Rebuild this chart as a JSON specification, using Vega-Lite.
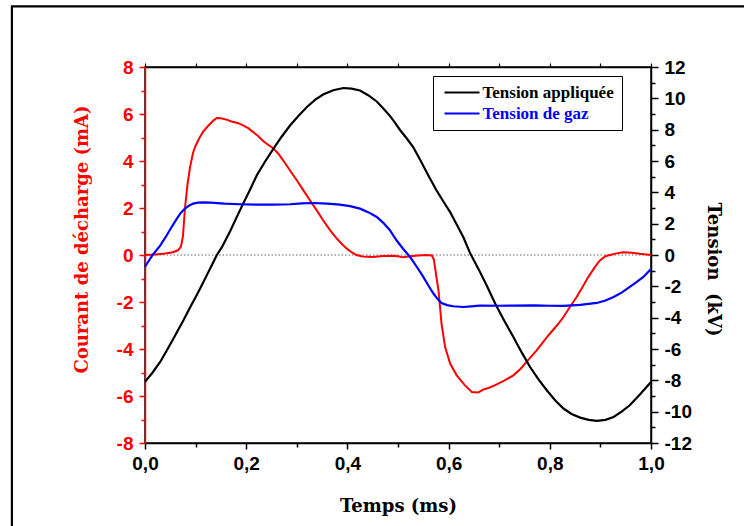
{
  "$schema": "https://vega.github.io/schema/vega-lite/v6.json",
  "width": 506,
  "height": 376,
  "autosize": {"type": "none"},
  "padding": {"left": 145, "top": 67, "right": 93, "bottom": 83},
  "background": "white",
  "config": {"view": {"stroke": "black", "strokeWidth": 1.5}},
  "datasets": {
    "current": [
      {"t": 0, "I": 0}, {"t": 0.02, "I": 0.02}, {"t": 0.04, "I": 0.06}, {"t": 0.055, "I": 0.12},
      {"t": 0.065, "I": 0.2}, {"t": 0.071, "I": 0.35}, {"t": 0.075, "I": 0.8}, {"t": 0.079, "I": 2.0},
      {"t": 0.084, "I": 3.0}, {"t": 0.089, "I": 3.74}, {"t": 0.095, "I": 4.35}, {"t": 0.1, "I": 4.65},
      {"t": 0.108, "I": 5.0}, {"t": 0.115, "I": 5.25}, {"t": 0.125, "I": 5.5}, {"t": 0.135, "I": 5.72},
      {"t": 0.142, "I": 5.83}, {"t": 0.15, "I": 5.82}, {"t": 0.161, "I": 5.76}, {"t": 0.171, "I": 5.68},
      {"t": 0.183, "I": 5.62}, {"t": 0.194, "I": 5.52}, {"t": 0.204, "I": 5.4}, {"t": 0.214, "I": 5.23},
      {"t": 0.224, "I": 5.05}, {"t": 0.234, "I": 4.84}, {"t": 0.244, "I": 4.68}, {"t": 0.254, "I": 4.53},
      {"t": 0.264, "I": 4.3}, {"t": 0.273, "I": 4.03}, {"t": 0.285, "I": 3.65}, {"t": 0.3, "I": 3.18},
      {"t": 0.313, "I": 2.75}, {"t": 0.326, "I": 2.33}, {"t": 0.34, "I": 1.88}, {"t": 0.352, "I": 1.48},
      {"t": 0.365, "I": 1.08}, {"t": 0.379, "I": 0.7}, {"t": 0.39, "I": 0.45}, {"t": 0.399, "I": 0.27},
      {"t": 0.408, "I": 0.12}, {"t": 0.418, "I": 0.0}, {"t": 0.43, "I": -0.06}, {"t": 0.451, "I": -0.08},
      {"t": 0.47, "I": -0.04}, {"t": 0.49, "I": -0.03}, {"t": 0.5, "I": -0.05}, {"t": 0.51, "I": -0.1},
      {"t": 0.52, "I": -0.06}, {"t": 0.54, "I": -0.02}, {"t": 0.555, "I": 0.0}, {"t": 0.567, "I": -0.02},
      {"t": 0.571, "I": -0.2}, {"t": 0.575, "I": -0.8}, {"t": 0.58, "I": -1.5}, {"t": 0.586, "I": -2.92},
      {"t": 0.593, "I": -3.91}, {"t": 0.603, "I": -4.62}, {"t": 0.616, "I": -5.12}, {"t": 0.632, "I": -5.54},
      {"t": 0.646, "I": -5.83}, {"t": 0.659, "I": -5.85}, {"t": 0.669, "I": -5.72}, {"t": 0.68, "I": -5.65},
      {"t": 0.692, "I": -5.54}, {"t": 0.71, "I": -5.35}, {"t": 0.728, "I": -5.12}, {"t": 0.742, "I": -4.85},
      {"t": 0.754, "I": -4.55}, {"t": 0.774, "I": -4.06}, {"t": 0.787, "I": -3.7}, {"t": 0.8, "I": -3.35},
      {"t": 0.814, "I": -3.0}, {"t": 0.827, "I": -2.64}, {"t": 0.84, "I": -2.2}, {"t": 0.853, "I": -1.79},
      {"t": 0.865, "I": -1.35}, {"t": 0.876, "I": -0.94}, {"t": 0.888, "I": -0.55}, {"t": 0.899, "I": -0.23},
      {"t": 0.91, "I": -0.05}, {"t": 0.919, "I": 0.0}, {"t": 0.932, "I": 0.07}, {"t": 0.945, "I": 0.12},
      {"t": 0.962, "I": 0.1}, {"t": 0.978, "I": 0.05}, {"t": 1.0, "I": 0.0}
    ],
    "voltage": [
      {"serie": "Tension appliquée", "t": 0, "V": -8.1}, {"serie": "Tension appliquée", "t": 0.015, "V": -7.5},
      {"serie": "Tension appliquée", "t": 0.03, "V": -6.83}, {"serie": "Tension appliquée", "t": 0.043, "V": -6.1},
      {"serie": "Tension appliquée", "t": 0.056, "V": -5.34}, {"serie": "Tension appliquée", "t": 0.066, "V": -4.75},
      {"serie": "Tension appliquée", "t": 0.076, "V": -4.17}, {"serie": "Tension appliquée", "t": 0.089, "V": -3.35},
      {"serie": "Tension appliquée", "t": 0.102, "V": -2.57}, {"serie": "Tension appliquée", "t": 0.112, "V": -1.95},
      {"serie": "Tension appliquée", "t": 0.122, "V": -1.3}, {"serie": "Tension appliquée", "t": 0.132, "V": -0.65},
      {"serie": "Tension appliquée", "t": 0.142, "V": 0.0}, {"serie": "Tension appliquée", "t": 0.152, "V": 0.5},
      {"serie": "Tension appliquée", "t": 0.168, "V": 1.5}, {"serie": "Tension appliquée", "t": 0.181, "V": 2.4},
      {"serie": "Tension appliquée", "t": 0.194, "V": 3.28}, {"serie": "Tension appliquée", "t": 0.208, "V": 4.2},
      {"serie": "Tension appliquée", "t": 0.221, "V": 5.09}, {"serie": "Tension appliquée", "t": 0.238, "V": 6.0},
      {"serie": "Tension appliquée", "t": 0.254, "V": 6.79}, {"serie": "Tension appliquée", "t": 0.27, "V": 7.55},
      {"serie": "Tension appliquée", "t": 0.287, "V": 8.28}, {"serie": "Tension appliquée", "t": 0.304, "V": 8.9},
      {"serie": "Tension appliquée", "t": 0.32, "V": 9.45}, {"serie": "Tension appliquée", "t": 0.336, "V": 9.9},
      {"serie": "Tension appliquée", "t": 0.352, "V": 10.24}, {"serie": "Tension appliquée", "t": 0.372, "V": 10.52},
      {"serie": "Tension appliquée", "t": 0.392, "V": 10.66}, {"serie": "Tension appliquée", "t": 0.408, "V": 10.62},
      {"serie": "Tension appliquée", "t": 0.425, "V": 10.5}, {"serie": "Tension appliquée", "t": 0.441, "V": 10.2},
      {"serie": "Tension appliquée", "t": 0.458, "V": 9.8}, {"serie": "Tension appliquée", "t": 0.471, "V": 9.35},
      {"serie": "Tension appliquée", "t": 0.484, "V": 8.88}, {"serie": "Tension appliquée", "t": 0.494, "V": 8.45},
      {"serie": "Tension appliquée", "t": 0.504, "V": 7.98}, {"serie": "Tension appliquée", "t": 0.517, "V": 7.45},
      {"serie": "Tension appliquée", "t": 0.53, "V": 6.89}, {"serie": "Tension appliquée", "t": 0.545, "V": 6.0},
      {"serie": "Tension appliquée", "t": 0.56, "V": 5.08}, {"serie": "Tension appliquée", "t": 0.576, "V": 4.13},
      {"serie": "Tension appliquée", "t": 0.59, "V": 3.4}, {"serie": "Tension appliquée", "t": 0.603, "V": 2.74},
      {"serie": "Tension appliquée", "t": 0.616, "V": 1.95}, {"serie": "Tension appliquée", "t": 0.629, "V": 1.15},
      {"serie": "Tension appliquée", "t": 0.642, "V": 0.15}, {"serie": "Tension appliquée", "t": 0.66, "V": -0.95},
      {"serie": "Tension appliquée", "t": 0.676, "V": -2.0}, {"serie": "Tension appliquée", "t": 0.692, "V": -3.1},
      {"serie": "Tension appliquée", "t": 0.71, "V": -4.2}, {"serie": "Tension appliquée", "t": 0.728, "V": -5.23},
      {"serie": "Tension appliquée", "t": 0.745, "V": -6.25}, {"serie": "Tension appliquée", "t": 0.761, "V": -7.15},
      {"serie": "Tension appliquée", "t": 0.778, "V": -7.95}, {"serie": "Tension appliquée", "t": 0.794, "V": -8.63},
      {"serie": "Tension appliquée", "t": 0.81, "V": -9.25}, {"serie": "Tension appliquée", "t": 0.827, "V": -9.8},
      {"serie": "Tension appliquée", "t": 0.843, "V": -10.15}, {"serie": "Tension appliquée", "t": 0.86, "V": -10.38},
      {"serie": "Tension appliquée", "t": 0.877, "V": -10.52}, {"serie": "Tension appliquée", "t": 0.893, "V": -10.59},
      {"serie": "Tension appliquée", "t": 0.91, "V": -10.52}, {"serie": "Tension appliquée", "t": 0.926, "V": -10.34},
      {"serie": "Tension appliquée", "t": 0.942, "V": -10.0}, {"serie": "Tension appliquée", "t": 0.958, "V": -9.59},
      {"serie": "Tension appliquée", "t": 0.978, "V": -8.9}, {"serie": "Tension appliquée", "t": 1.0, "V": -8.1},
      {"serie": "Tension de gaz", "t": 0, "V": -0.75}, {"serie": "Tension de gaz", "t": 0.015, "V": 0.0},
      {"serie": "Tension de gaz", "t": 0.03, "V": 0.6}, {"serie": "Tension de gaz", "t": 0.043, "V": 1.26},
      {"serie": "Tension de gaz", "t": 0.053, "V": 1.8}, {"serie": "Tension de gaz", "t": 0.063, "V": 2.32},
      {"serie": "Tension de gaz", "t": 0.071, "V": 2.7}, {"serie": "Tension de gaz", "t": 0.079, "V": 2.96},
      {"serie": "Tension de gaz", "t": 0.087, "V": 3.15}, {"serie": "Tension de gaz", "t": 0.095, "V": 3.28},
      {"serie": "Tension de gaz", "t": 0.105, "V": 3.34}, {"serie": "Tension de gaz", "t": 0.115, "V": 3.36},
      {"serie": "Tension de gaz", "t": 0.13, "V": 3.34}, {"serie": "Tension de gaz", "t": 0.157, "V": 3.28},
      {"serie": "Tension de gaz", "t": 0.188, "V": 3.24}, {"serie": "Tension de gaz", "t": 0.22, "V": 3.22},
      {"serie": "Tension de gaz", "t": 0.254, "V": 3.22}, {"serie": "Tension de gaz", "t": 0.287, "V": 3.24},
      {"serie": "Tension de gaz", "t": 0.31, "V": 3.3}, {"serie": "Tension de gaz", "t": 0.333, "V": 3.32},
      {"serie": "Tension de gaz", "t": 0.36, "V": 3.28}, {"serie": "Tension de gaz", "t": 0.385, "V": 3.22},
      {"serie": "Tension de gaz", "t": 0.405, "V": 3.12}, {"serie": "Tension de gaz", "t": 0.425, "V": 2.96},
      {"serie": "Tension de gaz", "t": 0.442, "V": 2.72}, {"serie": "Tension de gaz", "t": 0.458, "V": 2.43},
      {"serie": "Tension de gaz", "t": 0.471, "V": 2.05}, {"serie": "Tension de gaz", "t": 0.484, "V": 1.58},
      {"serie": "Tension de gaz", "t": 0.497, "V": 0.94}, {"serie": "Tension de gaz", "t": 0.51, "V": 0.4},
      {"serie": "Tension de gaz", "t": 0.524, "V": -0.13}, {"serie": "Tension de gaz", "t": 0.537, "V": -0.75},
      {"serie": "Tension de gaz", "t": 0.55, "V": -1.4}, {"serie": "Tension de gaz", "t": 0.56, "V": -1.95},
      {"serie": "Tension de gaz", "t": 0.57, "V": -2.46}, {"serie": "Tension de gaz", "t": 0.578, "V": -2.8},
      {"serie": "Tension de gaz", "t": 0.586, "V": -3.06}, {"serie": "Tension de gaz", "t": 0.597, "V": -3.2},
      {"serie": "Tension de gaz", "t": 0.609, "V": -3.27}, {"serie": "Tension de gaz", "t": 0.629, "V": -3.32},
      {"serie": "Tension de gaz", "t": 0.645, "V": -3.28}, {"serie": "Tension de gaz", "t": 0.661, "V": -3.23},
      {"serie": "Tension de gaz", "t": 0.7, "V": -3.24}, {"serie": "Tension de gaz", "t": 0.728, "V": -3.23},
      {"serie": "Tension de gaz", "t": 0.77, "V": -3.22}, {"serie": "Tension de gaz", "t": 0.8, "V": -3.24},
      {"serie": "Tension de gaz", "t": 0.827, "V": -3.25}, {"serie": "Tension de gaz", "t": 0.86, "V": -3.18},
      {"serie": "Tension de gaz", "t": 0.893, "V": -3.06}, {"serie": "Tension de gaz", "t": 0.91, "V": -2.9},
      {"serie": "Tension de gaz", "t": 0.926, "V": -2.68}, {"serie": "Tension de gaz", "t": 0.942, "V": -2.4},
      {"serie": "Tension de gaz", "t": 0.958, "V": -2.04}, {"serie": "Tension de gaz", "t": 0.972, "V": -1.72},
      {"serie": "Tension de gaz", "t": 0.985, "V": -1.4}, {"serie": "Tension de gaz", "t": 1.0, "V": -0.9}
    ]
  },
  "layer": [
    {
      "layer": [
        {
          "data": {"values": [{"frame": "border"}]},
          "mark": {"type": "rect", "fillOpacity": 0, "stroke": "black", "strokeWidth": 2.2, "clip": false},
          "encoding": {
            "x": {"datum": -0.263, "type": "quantitative", "scale": {"domain": [0, 1], "nice": false},
              "axis": {"orient": "bottom", "title": "Temps (ms)", "values": [0, 0.1, 0.2, 0.3, 0.4, 0.5, 0.6, 0.7, 0.8, 0.9, 1],
                "labelExpr": "round(datum.value*10) % 2 == 0 ? replace(format(datum.value, '.1f'), '.', ',') : ''",
                "tickSize": {"condition": {"test": "round(datum.value*10) % 2 == 0", "value": 6}, "value": 4},
                "grid": false, "domainColor": "black", "domainWidth": 1.5, "tickColor": "black", "tickWidth": 1.5,
                "labelFont": "Liberation Sans", "labelFontWeight": "bold", "labelFontSize": 19, "labelColor": "black",
                "labelPadding": 5, "labelFlush": false, "labelOverlap": false,
                "titleFont": "DejaVu Serif", "titleFontWeight": "bold", "titleFontSize": 18, "titleColor": "black", "titlePadding": 24}},
            "x2": {"datum": 1.3},
            "y": {"datum": 10.58, "type": "quantitative", "scale": {"domain": [-8, 8], "nice": false},
              "axis": {"orient": "left", "title": "Courant de décharge (mA)", "values": [-8, -7, -6, -5, -4, -3, -2, -1, 0, 1, 2, 3, 4, 5, 6, 7, 8],
                "labelExpr": "datum.value % 2 == 0 ? datum.value : ''",
                "tickSize": {"condition": {"test": "datum.value % 2 == 0", "value": 6}, "value": 4},
                "grid": false, "domainColor": "red", "domainWidth": 1.5, "tickColor": "red", "tickWidth": 1.5,
                "labelFont": "Liberation Sans", "labelFontWeight": "bold", "labelFontSize": 19, "labelColor": "red",
                "labelPadding": 6, "labelFlush": false, "labelOverlap": false,
                "titleFont": "DejaVu Serif", "titleFontWeight": "bold", "titleFontSize": 18, "titleColor": "red", "titlePadding": 25, "titleY": 172}},
            "y2": {"datum": -14}
          }
        },
        {
          "data": {"values": [{"ref": "zero"}]},
          "mark": {"type": "rule", "color": "#666666", "strokeDash": [1.5, 2], "strokeWidth": 1.2},
          "encoding": {
            "y": {"datum": 0, "type": "quantitative", "scale": {"domain": [-8, 8], "nice": false},
              "axis": {"orient": "left", "title": "Courant de décharge (mA)", "values": [-8, -7, -6, -5, -4, -3, -2, -1, 0, 1, 2, 3, 4, 5, 6, 7, 8],
                "labelExpr": "datum.value % 2 == 0 ? datum.value : ''",
                "tickSize": {"condition": {"test": "datum.value % 2 == 0", "value": 6}, "value": 4},
                "grid": false, "domainColor": "red", "domainWidth": 1.5, "tickColor": "red", "tickWidth": 1.5,
                "labelFont": "Liberation Sans", "labelFontWeight": "bold", "labelFontSize": 19, "labelColor": "red",
                "labelPadding": 6, "labelFlush": false, "labelOverlap": false,
                "titleFont": "DejaVu Serif", "titleFontWeight": "bold", "titleFontSize": 18, "titleColor": "red", "titlePadding": 25, "titleY": 172}}
          }
        },
        {
          "data": {"name": "current"},
          "mark": {"type": "line", "color": "red", "strokeWidth": 2},
          "encoding": {
            "x": {"field": "t", "type": "quantitative", "scale": {"domain": [0, 1], "nice": false},
              "axis": {"orient": "bottom", "title": "Temps (ms)", "values": [0, 0.1, 0.2, 0.3, 0.4, 0.5, 0.6, 0.7, 0.8, 0.9, 1],
                "labelExpr": "round(datum.value*10) % 2 == 0 ? replace(format(datum.value, '.1f'), '.', ',') : ''",
                "tickSize": {"condition": {"test": "round(datum.value*10) % 2 == 0", "value": 6}, "value": 4},
                "grid": false, "domainColor": "black", "domainWidth": 1.5, "tickColor": "black", "tickWidth": 1.5,
                "labelFont": "Liberation Sans", "labelFontWeight": "bold", "labelFontSize": 19, "labelColor": "black",
                "labelPadding": 5, "labelFlush": false, "labelOverlap": false,
                "titleFont": "DejaVu Serif", "titleFontWeight": "bold", "titleFontSize": 18, "titleColor": "black", "titlePadding": 24}},
            "y": {"field": "I", "type": "quantitative", "scale": {"domain": [-8, 8], "nice": false},
              "axis": {"orient": "left", "title": "Courant de décharge (mA)", "values": [-8, -7, -6, -5, -4, -3, -2, -1, 0, 1, 2, 3, 4, 5, 6, 7, 8],
                "labelExpr": "datum.value % 2 == 0 ? datum.value : ''",
                "tickSize": {"condition": {"test": "datum.value % 2 == 0", "value": 6}, "value": 4},
                "grid": false, "domainColor": "red", "domainWidth": 1.5, "tickColor": "red", "tickWidth": 1.5,
                "labelFont": "Liberation Sans", "labelFontWeight": "bold", "labelFontSize": 19, "labelColor": "red",
                "labelPadding": 6, "labelFlush": false, "labelOverlap": false,
                "titleFont": "DejaVu Serif", "titleFontWeight": "bold", "titleFontSize": 18, "titleColor": "red", "titlePadding": 25, "titleY": 172}}
          }
        }
      ]
    },
    {
      "data": {"name": "voltage"},
      "mark": {"type": "line", "strokeWidth": 2.2},
      "encoding": {
        "x": {"field": "t", "type": "quantitative", "scale": {"domain": [0, 1], "nice": false},
          "axis": {"orient": "top", "title": null, "labels": false, "values": [0, 0.1, 0.2, 0.3, 0.4, 0.5, 0.6, 0.7, 0.8, 0.9, 1],
            "tickSize": 4, "grid": false, "domainColor": "black", "domainWidth": 1.5, "tickColor": "black", "tickWidth": 1.2}},
        "y": {"field": "V", "type": "quantitative", "scale": {"domain": [-12, 12], "nice": false},
          "axis": {"orient": "right", "title": "Tension \u00a0(kV)", "values": [-12, -11, -10, -9, -8, -7, -6, -5, -4, -3, -2, -1, 0, 1, 2, 3, 4, 5, 6, 7, 8, 9, 10, 11, 12],
            "labelExpr": "datum.value % 2 == 0 ? datum.value : ''",
            "tickSize": {"condition": {"test": "datum.value % 2 == 0", "value": 7}, "value": 4},
            "grid": false, "domainColor": "black", "domainWidth": 1.5, "tickColor": "black", "tickWidth": 1.5,
            "labelFont": "Liberation Sans", "labelFontWeight": "bold", "labelFontSize": 19, "labelColor": "black",
            "labelPadding": 6, "labelFlush": false, "labelOverlap": false,
            "titleFont": "DejaVu Serif", "titleFontWeight": "bold", "titleFontSize": 18, "titleColor": "black", "titlePadding": 12, "titleY": 202}},
        "color": {"field": "serie", "type": "nominal",
          "scale": {"domain": ["Tension appliquée", "Tension de gaz"], "range": ["black", "blue"]},
          "legend": {"title": null, "orient": "none", "legendX": 288, "legendY": 9, "direction": "vertical",
            "symbolType": "M-2.5,0H2.5", "symbolSize": 196, "symbolStrokeWidth": 2, "symbolOffset": 12.5,
            "labelFont": "Liberation Serif", "labelFontWeight": "bold", "labelFontSize": 17, "labelOffset": 12, "labelLimit": 300,
            "rowPadding": 3, "padding": 8, "strokeColor": "black", "fillColor": "white",
            "encode": {"labels": {"update": {"fill": {"signal": "datum.value === 'Tension de gaz' ? 'blue' : 'black'"}}}}}}
      }
    }
  ],
  "resolve": {"scale": {"y": "independent"}, "axis": {"x": "independent"}}
}
